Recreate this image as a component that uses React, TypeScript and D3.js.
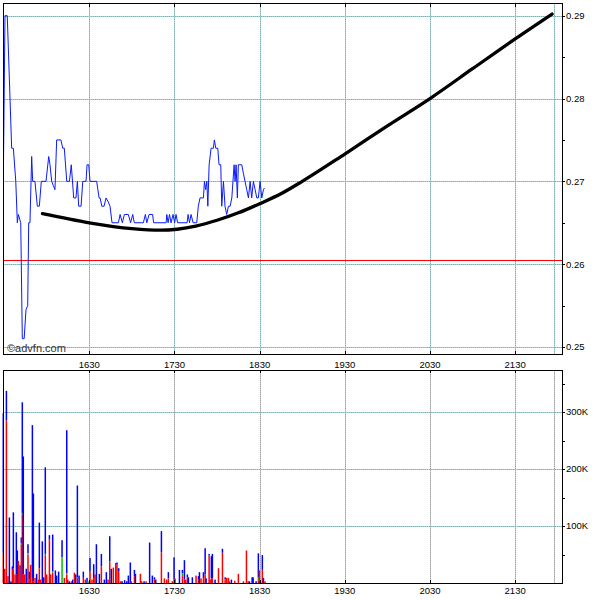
import * as d3 from 'd3';

// times are minutes after midnight, volumes in thousands
const PRICE_TIMES = [
  929.0, 930.6, 932.2, 935.3, 936.5, 938.2, 939.3, 940.0, 941.7, 942.8,
  944.1, 945.4, 946.6, 947.3, 948.2, 949.4, 950.1, 951.7, 953.4, 954.8,
  956.2, 959.5, 961.4, 962.3, 963.5, 964.6, 965.8, 967.0, 970.0, 971.3,
  972.4, 974.1, 976.0, 977.3, 979.0, 980.6, 981.6, 982.5, 984.2, 985.4,
  987.7, 988.4, 989.6, 990.5, 995.2, 996.9, 997.6, 998.8, 1000.4, 1001.8,
  1003.4, 1004.6, 1006.0, 1010.5, 1011.7, 1013.3, 1014.7, 1017.5, 1019.1, 1020.6,
  1021.7, 1028.1, 1029.5, 1030.5, 1032.1, 1034.6, 1035.3, 1044.1, 1044.6, 1045.5,
  1046.5, 1047.6, 1049.0, 1050.1, 1051.1, 1052.2, 1058.9, 1059.6, 1060.6, 1061.7,
  1063.1, 1065.7, 1066.8, 1068.0, 1070.4, 1071.1, 1072.0, 1072.8, 1073.5, 1074.4,
  1075.8, 1077.4, 1078.1, 1079.1, 1080.5, 1081.4, 1082.6, 1083.3, 1084.5, 1085.6,
  1086.8, 1088.0, 1089.2, 1090.4, 1092.0, 1092.7, 1093.4, 1094.3, 1095.0, 1097.4,
  1098.5, 1099.7, 1100.9, 1102.1, 1103.3, 1104.4, 1105.6, 1106.8, 1108.0, 1109.1,
  1110.3, 1111.5, 1112.7, 1113.4,
];
const PRICE_VALUES = [
  0.263, 0.29, 0.29, 0.274, 0.274, 0.27, 0.265, 0.266, 0.265, 0.251,
  0.251, 0.2545, 0.255, 0.265, 0.265, 0.273, 0.27, 0.27, 0.267, 0.267,
  0.27, 0.27, 0.273, 0.272, 0.27, 0.2695, 0.269, 0.275, 0.275, 0.274,
  0.274, 0.27, 0.27, 0.272, 0.268, 0.268, 0.27, 0.267, 0.267, 0.27,
  0.27, 0.272, 0.272, 0.27, 0.27, 0.268, 0.268, 0.267, 0.267, 0.268,
  0.2675, 0.267, 0.265, 0.265, 0.266, 0.265, 0.266, 0.266, 0.265, 0.266,
  0.265, 0.265, 0.266, 0.265, 0.266, 0.266, 0.265, 0.265, 0.266, 0.265,
  0.266, 0.265, 0.266, 0.265, 0.266, 0.265, 0.265, 0.266, 0.265, 0.266,
  0.265, 0.265, 0.267, 0.268, 0.268, 0.27, 0.269, 0.27, 0.267, 0.272,
  0.274, 0.274, 0.275, 0.274, 0.274, 0.272, 0.272, 0.267, 0.27, 0.267,
  0.266, 0.267, 0.267, 0.268, 0.272, 0.27, 0.272, 0.268, 0.272, 0.272,
  0.271, 0.27, 0.269, 0.268, 0.27, 0.268, 0.27, 0.269, 0.268, 0.268,
  0.27, 0.268, 0.269, 0.2692,
];

const TREND_TIMES = [957, 990, 1020, 1040, 1065, 1080, 1095, 1110, 1125, 1140, 1170, 1200, 1230, 1260, 1290, 1316];
const TREND_VALUES = [
  0.2661, 0.265, 0.2643, 0.2641, 0.2646, 0.2653, 0.2662, 0.2673, 0.2685, 0.27,
  0.2733, 0.2767, 0.28, 0.2836, 0.2872, 0.2902,
];

const REF_PRICE = 0.2605;

const VOL_TIMES = [
  929.4, 930.4, 931.6, 932.7, 933.7, 934.8, 935.8, 936.5, 937.7, 938.6,
  939.3, 940.0, 941.2, 942.1, 942.8, 943.5, 944.5, 945.6, 946.8, 947.8,
  948.7, 949.9, 950.6, 951.8, 952.9, 954.1, 954.8, 955.7, 956.9, 957.9,
  959.0, 960.0, 961.9, 962.8, 964.2, 966.1, 967.0, 968.4, 970.8, 972.4,
  974.1, 974.8, 975.9, 977.4, 978.3, 979.5, 980.4, 981.6, 982.8, 985.8,
  987.2, 988.4, 989.1, 990.5, 991.9, 993.1, 994.0, 995.0, 997.1, 998.5,
  1000.6, 1002.0, 1003.2, 1004.4, 1005.5, 1006.9, 1008.6, 1009.5, 1010.7, 1012.1,
  1013.1, 1014.9, 1016.4, 1017.5, 1018.9, 1019.6, 1021.8, 1022.5, 1026.0, 1026.9,
  1028.6, 1030.0, 1032.5, 1034.4, 1035.9, 1036.8, 1040.8, 1042.9, 1044.5, 1045.7,
  1048.5, 1049.7, 1050.4, 1053.5, 1055.6, 1057.0, 1057.9, 1059.1, 1059.8, 1062.6,
  1065.2, 1066.9, 1067.6, 1068.7, 1070.4, 1071.6, 1072.3, 1074.4, 1075.1, 1076.0,
  1076.7, 1078.6, 1081.0, 1083.8, 1085.7, 1086.8, 1088.0, 1088.7, 1090.1, 1092.5,
  1095.0, 1098.6, 1100.7, 1101.9, 1102.8, 1104.7, 1105.4, 1107.5, 1109.1, 1109.8,
  1110.5, 1111.9, 1112.7, 1113.8,
];
const VOL_BLUE = [
  245, 0, 52, 0, 115, 3, 6, 98, 0, 74,
  57, 0, 31, 10, 194, 207, 0, 25, 16, 14,
  0, 268, 154, 0, 16, 0, 80, 0, 73, 10,
  152, 0, 8, 0, 65, 22, 13, 20, 30, 0,
  251, 0, 3, 0, 6, 0, 15, 161, 13, 11,
  0, 9, 0, 24, 0, 24, 0, 68, 16, 22,
  6, 19, 0, 44, 25, 0, 0, 4, 6, 0,
  3, 5, 3, 13, 36, 0, 11, 16, 0, 0,
  3, 0, 71, 13, 4, 6, 37, 0, 0, 11,
  0, 39, 0, 23, 6, 34, 0, 5, 10, 10,
  0, 6, 19, 0, 10, 46, 8, 3, 0, 39,
  43, 6, 0, 7, 4, 0, 0, 0, 6, 0,
  0, 0, 0, 0, 3, 10, 10, 3, 42, 0,
  3, 26, 9, 0,
];
const VOL_RED = [
  51, 25, 285, 12, 0, 0, 23, 26, 15, 15,
  0, 39, 0, 67, 120, 15, 15, 0, 50, 6,
  32, 9, 3, 9, 0, 6, 26, 6, 0, 0,
  49, 15, 76, 15, 18, 0, 0, 0, 0, 9,
  15, 6, 0, 3, 0, 18, 0, 10, 0, 9,
  6, 0, 0, 20, 6, 9, 15, 0, 0, 29,
  0, 0, 6, 38, 0, 27, 35, 32, 20, 3,
  0, 0, 0, 0, 0, 3, 12, 0, 16, 3,
  0, 3, 0, 0, 6, 0, 54, 8, 6, 8,
  3, 6, 8, 0, 12, 6, 6, 10, 0, 0,
  13, 6, 0, 8, 9, 15, 0, 48, 6, 8,
  8, 0, 26, 53, 6, 9, 9, 3, 0, 4,
  16, 3, 57, 3, 0, 0, 0, 0, 4, 22,
  0, 23, 0, 3,
];
const VOL_GREEN = [
  2, 0, 0, 0, 0, 0, 0, 0, 0, 0,
  0, 0, 0, 3, 3, 0, 0, 0, 2, 0,
  0, 0, 0, 0, 0, 0, 0, 0, 0, 0,
  2, 0, 0, 0, 2, 0, 0, 0, 45, 0,
  2, 0, 0, 0, 0, 0, 0, 0, 0, 0,
  0, 0, 3, 0, 0, 0, 0, 0, 0, 0,
  0, 0, 0, 0, 0, 0, 0, 0, 0, 0,
  0, 0, 0, 0, 0, 0, 0, 0, 0, 0,
  0, 0, 0, 0, 0, 0, 0, 0, 0, 0,
  0, 0, 0, 0, 5, 0, 0, 0, 0, 0,
  0, 0, 0, 0, 0, 0, 0, 0, 0, 0,
  0, 0, 0, 0, 0, 0, 0, 0, 0, 0,
  0, 0, 0, 0, 0, 0, 0, 0, 6, 0,
  0, 0, 0, 0,
];

const HOUR_TICKS = [990, 1050, 1110, 1170, 1230, 1290];
const SESSION_END = 1317.5;
const PRICE_TICKS = [0.25, 0.26, 0.27, 0.28, 0.29];
const PRICE_MINOR = [0.255, 0.265, 0.275, 0.285];
const VOL_TICKS = [100, 200, 300];
const VOL_MINOR = [50, 150, 250, 350];

const LEFT = 3;
const RIGHT = 562;
const TOP1 = 3;
const BOT1 = 354;
const TOP2 = 370;
const BOT2 = 583;
const FONT = '"Liberation Sans", Arial, sans-serif';

const hhmm = (m: number) => {
  const h = Math.floor(m / 60);
  const mm = Math.round(m % 60);
  return `${h}${String(mm).padStart(2, '0')}`;
};

// dotted advfn-style grid line: teal base with grey dots on top
const GridLine = ({ x1, x2, y1, y2 }: { x1: number; x2: number; y1: number; y2: number }) => (
  <g>
    <line x1={x1} x2={x2} y1={y1} y2={y2} stroke="#a6d2d2" strokeWidth={1} />
    <line x1={x1} x2={x2} y1={y1} y2={y2} stroke="#a3a3a3" strokeWidth={1} strokeDasharray="1 1" />
  </g>
);

export default function App() {
  const x = d3.scaleLinear().domain([929.2, 1323]).range([LEFT, RIGHT]);
  const yP = d3.scaleLinear().domain([0.25, 0.29]).range([347, 15.7]);
  const yV = d3.scaleLinear().domain([0, 300]).range([BOT2, 412]);

  const priceLine = d3
    .line<number>()
    .x((t) => x(t))
    .y((_, i) => yP(PRICE_VALUES[i]));
  const trendLine = d3
    .line<number>()
    .x((t) => x(t))
    .y((_, i) => yP(TREND_VALUES[i]))
    .curve(d3.curveMonotoneX);

  const vGrid = [...HOUR_TICKS, SESSION_END];
  const px = (v: number) => Math.round(v) + 0.5;

  const bars = VOL_TIMES.map((t, i) => {
    const red = VOL_RED[i] ?? 0;
    const green = VOL_GREEN[i] ?? 0;
    const blue = VOL_BLUE[i] ?? 0;
    const bx = x(t) - 0.75;
    const y0 = yV(0);
    const yR = yV(red);
    const yG = yV(red + green);
    const yB = yV(red + green + blue);
    return (
      <g key={i}>
        {blue > 0 && <rect x={bx} y={yB} width={1.5} height={yG - yB} fill="#0000ff" />}
        {green > 0 && <rect x={bx} y={yG} width={1.5} height={yR - yG} fill="#00c000" />}
        {red > 0 && <rect x={bx} y={yR} width={1.5} height={y0 - yR} fill="#ff0000" />}
      </g>
    );
  });

  return (
    <svg
      width={600}
      height={600}
      style={{ position: 'absolute', left: 0, top: 0, background: '#fff' }}
      fontFamily={FONT}
    >
      <defs>
        <clipPath id="top-clip">
          <rect x={LEFT} y={TOP1} width={RIGHT - LEFT} height={BOT1 - TOP1} />
        </clipPath>
      </defs>

      {/* grid */}
      {PRICE_TICKS.map((v) => (
        <GridLine key={v} x1={LEFT} x2={RIGHT} y1={px(yP(v))} y2={px(yP(v))} />
      ))}
      {VOL_TICKS.map((v) => (
        <GridLine key={v} x1={LEFT} x2={RIGHT} y1={px(yV(v))} y2={px(yV(v))} />
      ))}
      {vGrid.map((t) => (
        <g key={t}>
          <GridLine x1={px(x(t))} x2={px(x(t))} y1={TOP1} y2={BOT1} />
          <GridLine x1={px(x(t))} x2={px(x(t))} y1={TOP2} y2={BOT2} />
        </g>
      ))}

      <text x={7} y={352} fontSize={11} fill="#333">
        ©advfn.com
      </text>

      <g clipPath="url(#top-clip)">
        <line x1={LEFT} x2={RIGHT} y1={px(yP(REF_PRICE))} y2={px(yP(REF_PRICE))} stroke="#ff0000" strokeWidth={1} />
        <path d={priceLine(PRICE_TIMES) ?? ''} fill="none" stroke="#0a1aff" strokeWidth={1} />
        <path
          d={trendLine(TREND_TIMES) ?? ''}
          fill="none"
          stroke="#000"
          strokeWidth={3.3}
          strokeLinecap="round"
        />
      </g>

      {bars}

      {/* frames */}
      <rect x={LEFT + 0.5} y={TOP1 + 0.5} width={RIGHT - LEFT} height={BOT1 - TOP1} fill="none" stroke="#000" />
      <rect x={LEFT + 0.5} y={TOP2 + 0.5} width={RIGHT - LEFT} height={BOT2 - TOP2} fill="none" stroke="#000" />

      {/* hour ticks on frames */}
      <g stroke="#000">
        {HOUR_TICKS.map((t) => {
          const tx = px(x(t));
          return (
            <g key={t}>
              <line x1={tx} x2={tx} y1={TOP1} y2={TOP1 + 4} />
              <line x1={tx} x2={tx} y1={BOT1 - 3} y2={BOT1} />
              <line x1={tx} x2={tx} y1={TOP2} y2={TOP2 + 3} />
              <line x1={tx} x2={tx} y1={BOT2 - 3} y2={BOT2} />
            </g>
          );
        })}
      </g>

      {/* x labels */}
      <g fontSize={9.5} fill="#000" textAnchor="middle">
        {HOUR_TICKS.map((t) => (
          <g key={t}>
            <text x={x(t)} y={367.5}>
              {hhmm(t)}
            </text>
            <text x={x(t)} y={594}>
              {hhmm(t)}
            </text>
          </g>
        ))}
      </g>

      {/* right axes */}
      <g stroke="#000">
        {[...PRICE_TICKS, ...PRICE_MINOR].map((v) => (
          <line key={v} x1={RIGHT} x2={RIGHT + 3} y1={px(yP(v))} y2={px(yP(v))} />
        ))}
        {[...VOL_TICKS, ...VOL_MINOR].map((v) => (
          <line key={v} x1={RIGHT} x2={RIGHT + 3} y1={px(yV(v))} y2={px(yV(v))} />
        ))}
      </g>
      <g fontSize={9.5} fill="#000">
        {PRICE_TICKS.map((v) => (
          <text key={v} x={566} y={yP(v)} dy="0.35em">
            {v.toFixed(2)}
          </text>
        ))}
        {VOL_TICKS.map((v) => (
          <text key={v} x={566} y={yV(v)} dy="0.35em">
            {`${v}K`}
          </text>
        ))}
      </g>
    </svg>
  );
}
